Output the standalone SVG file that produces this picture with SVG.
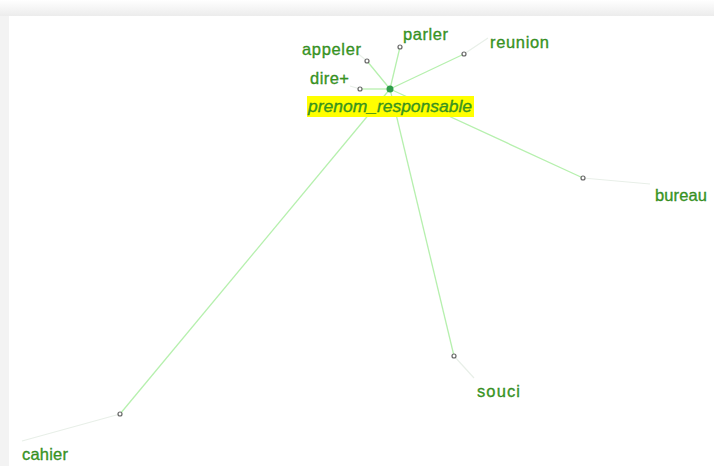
<svg xmlns="http://www.w3.org/2000/svg" width="714" height="466" viewBox="0 0 714 466">
<defs>
<linearGradient id="topg" x1="0" y1="0" x2="0" y2="1"><stop offset="0" stop-color="#ffffff"/><stop offset="1" stop-color="#ececec"/></linearGradient>
</defs>
<style>
.lbl{font-family:"Liberation Sans",Arial,sans-serif;font-size:16.5px;fill:#3a9d23;stroke:#2a7a1a;stroke-width:0.3px}
.e{stroke:#b6f0ae;stroke-width:1.3;fill:none}
.t{stroke:#e8efe8;stroke-width:1.2;fill:none}
.n{fill:#ffffff;stroke:#666;stroke-width:1.2}
</style>
<rect x="0" y="0" width="714" height="466" fill="#f3f3f3"/>
<rect x="0" y="0" width="714" height="16" fill="url(#topg)"/>
<rect x="9" y="16" width="705" height="450" fill="#ffffff"/>
<g id="connectors">
<line class="e" x1="390" y1="89" x2="367" y2="61"/>
<line class="e" x1="390" y1="89" x2="400" y2="47"/>
<line class="e" x1="390" y1="89" x2="464" y2="54"/>
<line class="e" x1="390" y1="89" x2="360" y2="89"/>
<line class="e" x1="390" y1="89" x2="583" y2="178"/>
<line class="e" x1="390" y1="89" x2="454" y2="356"/>
<line class="e" x1="390" y1="89" x2="120" y2="414"/>
<line class="t" x1="367" y1="61" x2="356" y2="52"/>
<line class="t" x1="464" y1="54" x2="488" y2="38"/>
<line class="t" x1="360" y1="89" x2="350" y2="86"/>
<line class="t" x1="583" y1="178" x2="650" y2="184"/>
<line class="t" x1="454" y1="356" x2="474" y2="378"/>
<line class="t" x1="120" y1="414" x2="22" y2="441"/>
</g>
<g id="n-prenom_responsable">
<rect x="307" y="96" width="167" height="21" fill="#ffff00"/>
<circle cx="390" cy="89" r="3.5" fill="#2e9e4a"/>
<text class="lbl" x="308" y="112" font-style="italic" font-size="16" textLength="164" lengthAdjust="spacingAndGlyphs">prenom_responsable</text>
</g>
<g id="n-appeler"><circle class="n" cx="367" cy="61" r="2"/><text class="lbl" x="302" y="55" textLength="59">appeler</text></g>
<g id="n-parler"><circle class="n" cx="400" cy="47" r="2"/><text class="lbl" x="403" y="40" textLength="45">parler</text></g>
<g id="n-reunion"><circle class="n" cx="464" cy="54" r="2"/><text class="lbl" x="490" y="48" textLength="59">reunion</text></g>
<g id="n-dire"><circle class="n" cx="360" cy="89" r="2"/><text class="lbl" x="310" y="84" textLength="39">dire+</text></g>
<g id="n-bureau"><circle class="n" cx="583" cy="178" r="2"/><text class="lbl" x="655" y="201" textLength="52">bureau</text></g>
<g id="n-souci"><circle class="n" cx="454" cy="356" r="2"/><text class="lbl" x="477" y="397" textLength="43">souci</text></g>
<g id="n-cahier"><circle class="n" cx="120" cy="414" r="2"/><text class="lbl" x="22" y="460" textLength="46">cahier</text></g>
</svg>
